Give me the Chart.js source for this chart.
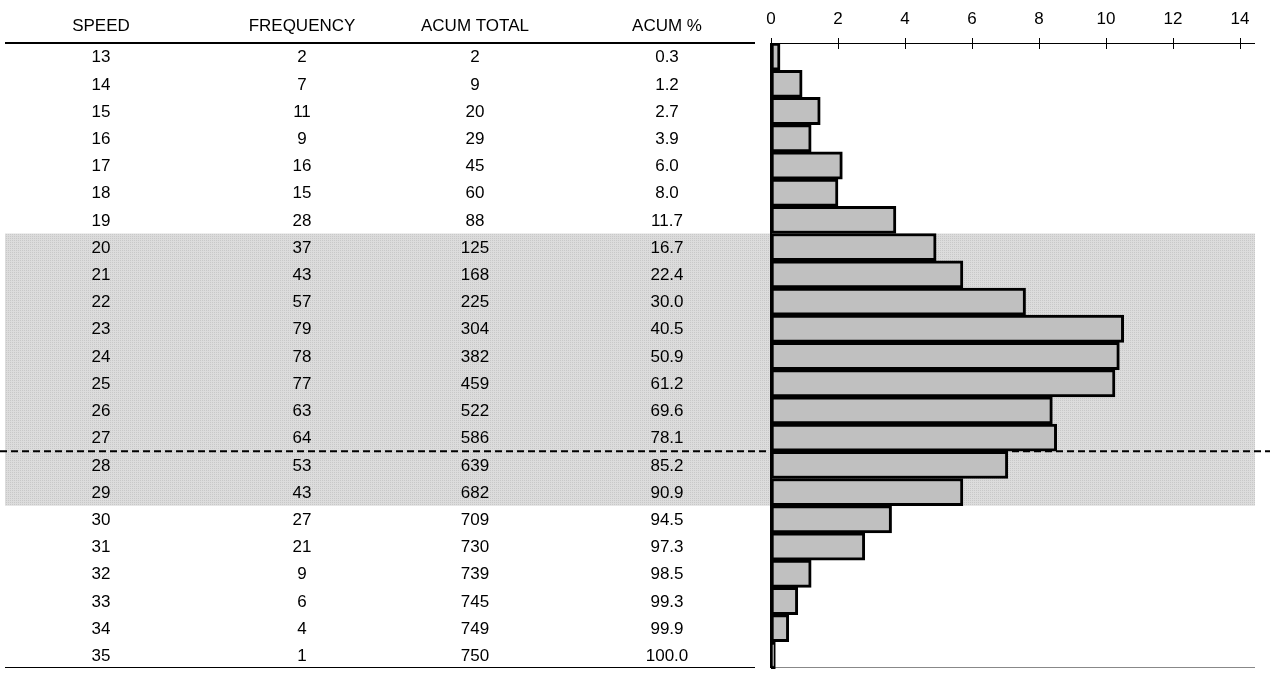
<!DOCTYPE html>
<html>
<head>
<meta charset="utf-8">
<script src="https://cdn.jsdelivr.net/npm/chart.js@4/dist/chart.umd.min.js"></script>
<style>
  html, body { margin: 0; padding: 0; background: #fff; }
  #wrap { width: 1270px; height: 673px; }
</style>
</head>
<body>
<div id="wrap"><canvas id="speedChart"></canvas></div>
<script>
// Table / histogram data
const speeds = ['13','14','15','16','17','18','19','20','21','22','23','24','25','26','27','28','29','30','31','32','33','34','35'];
const frequency = [2, 7, 11, 9, 16, 15, 28, 37, 43, 57, 79, 78, 77, 63, 64, 53, 43, 27, 21, 9, 6, 4, 1];
const acumTotal = [2, 9, 20, 29, 45, 60, 88, 125, 168, 225, 304, 382, 459, 522, 586, 639, 682, 709, 730, 739, 745, 749, 750];
const acumPct = ['0.3','1.2','2.7','3.9','6.0','8.0','11.7','16.7','22.4','30.0','40.5','50.9','61.2','69.6','78.1','85.2','90.9','94.5','97.3','98.5','99.3','99.9','100.0'];
const freqPct = [0.27, 0.93, 1.47, 1.2, 2.13, 2.0, 3.73, 4.93, 5.73, 7.6, 10.53, 10.4, 10.27, 8.4, 8.53, 7.07, 5.73, 3.6, 2.8, 1.2, 0.8, 0.53, 0.13];
const headers = ['SPEED', 'FREQUENCY', 'ACUM TOTAL', 'ACUM %'];
const colX = [101, 302, 475, 667];

const font = '17px "Liberation Sans", Arial, sans-serif';

// stippled grey for the highlighted band
const pc = document.createElement('canvas');
pc.width = 2; pc.height = 2;
const pctx = pc.getContext('2d');
pctx.fillStyle = '#dcdcdc'; pctx.fillRect(0, 0, 2, 2);
pctx.fillStyle = '#c8c8c8'; pctx.fillRect(0, 0, 1, 1);

const tablePlugin = {
    id: 'table',
    beforeDatasetsDraw(chart) {
        const ctx = chart.ctx, y = chart.scales.y, a = chart.chartArea;
        const half = (y.getPixelForValue(1) - y.getPixelForValue(0)) / 2;
        ctx.save();
        // shaded band speeds 20-29
        const top = y.getPixelForValue(7) - half, bot = y.getPixelForValue(16) + half;
        ctx.fillStyle = ctx.createPattern(pc, 'repeat');
        ctx.fillRect(5, top, a.right - 5, bot - top);
        // dashed line between 27 and 28
        const dy = y.getPixelForValue(14) + half;
        ctx.strokeStyle = '#000'; ctx.lineWidth = 2; ctx.setLineDash([7, 4]);
        ctx.beginPath(); ctx.moveTo(0, dy); ctx.lineTo(chart.width, dy); ctx.stroke();
        ctx.setLineDash([]);
        // text
        ctx.fillStyle = '#000'; ctx.font = font;
        ctx.textAlign = 'center'; ctx.textBaseline = 'middle';
        headers.forEach((h, j) => ctx.fillText(h, colX[j], 26));
        speeds.forEach((s, i) => {
            const py = y.getPixelForValue(i) + 1;
            [s, frequency[i], acumTotal[i], acumPct[i]].forEach((v, j) => ctx.fillText(String(v), colX[j], py));
        });
        // table rules
        ctx.lineWidth = 2;
        ctx.beginPath(); ctx.moveTo(5, a.top); ctx.lineTo(755, a.top); ctx.stroke();
        ctx.lineWidth = 1;
        ctx.beginPath(); ctx.moveTo(5, 667.5); ctx.lineTo(755, 667.5); ctx.stroke();
        ctx.strokeStyle = '#888';
        ctx.beginPath(); ctx.moveTo(a.left, 667.5); ctx.lineTo(a.right, 667.5); ctx.stroke();
        ctx.restore();
    },
    afterDatasetsDraw(chart) {
        const ctx = chart.ctx, x = chart.scales.x, a = chart.chartArea;
        ctx.save();
        ctx.strokeStyle = '#000';
        ctx.lineWidth = 1;
        ctx.beginPath(); ctx.moveTo(a.left, a.top + 0.5); ctx.lineTo(a.right, a.top + 0.5); ctx.stroke();
        x.ticks.forEach(t => {
            const px = Math.round(x.getPixelForValue(t.value)) + 0.5;
            ctx.beginPath(); ctx.moveTo(px, a.top - 5); ctx.lineTo(px, a.top + 6); ctx.stroke();
        });
        ctx.lineWidth = 2;
        ctx.beginPath(); ctx.moveTo(a.left, a.top); ctx.lineTo(a.left, 668); ctx.stroke();
        ctx.restore();
    }
};

new Chart(document.getElementById('speedChart'), {
    type: 'bar',
    data: {
        labels: speeds,
        datasets: [{
            data: freqPct,
            backgroundColor: '#c0c0c0',
            borderColor: '#000',
            borderWidth: 3,
            borderSkipped: false,
            barPercentage: 1,
            categoryPercentage: 1
        }]
    },
    plugins: [tablePlugin],
    options: {
        indexAxis: 'y',
        responsive: true,
        maintainAspectRatio: false,
        animation: false,
        layout: { padding: { left: 771, right: 15, top: 0, bottom: 4 } },
        plugins: { legend: { display: false }, tooltip: { enabled: false } },
        scales: {
            x: {
                position: 'top',
                min: 0, max: 14.45,
                afterFit: s => { s.height = 43; },
                afterBuildTicks: s => { s.ticks = [0,2,4,6,8,10,12,14].map(v => ({ value: v })); },
                border: { display: false },
                grid: { display: false },
                ticks: { color: '#000', font: { family: '"Liberation Sans", Arial', size: 17 }, padding: 5, maxRotation: 0 }
            },
            y: { display: false }
        }
    }
});
</script>
</body>
</html>
